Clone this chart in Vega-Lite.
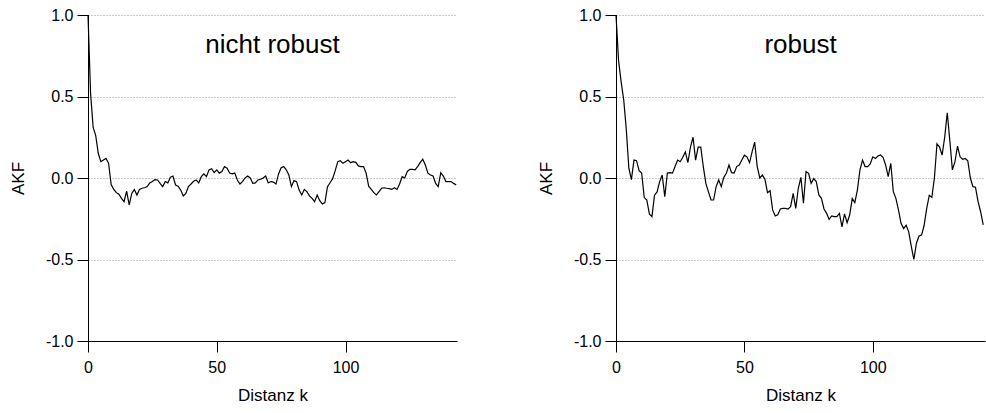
{
  "$schema": "https://vega.github.io/schema/vega-lite/v6.json",
  "padding": {"left": 9, "top": 7, "right": 0, "bottom": 0},
  "background": "white",
  "datasets": {
    "nr": [
      {"k":0,"v":1.0},{"k":1,"v":0.52},{"k":2,"v":0.31},{"k":3,"v":0.26},{"k":4,"v":0.15},{"k":5,"v":0.10},{"k":6,"v":0.11},{"k":7,"v":0.12},{"k":8,"v":0.09},{"k":9,"v":-0.04},
      {"k":10,"v":-0.07},{"k":11,"v":-0.09},{"k":12,"v":-0.10},{"k":13,"v":-0.125},{"k":14,"v":-0.145},{"k":15,"v":-0.08},{"k":16,"v":-0.165},{"k":17,"v":-0.095},{"k":18,"v":-0.07},{"k":19,"v":-0.105},
      {"k":20,"v":-0.07},{"k":21,"v":-0.063},{"k":22,"v":-0.06},{"k":23,"v":-0.053},{"k":24,"v":-0.03},{"k":25,"v":-0.022},{"k":26,"v":-0.01},{"k":27,"v":-0.012},{"k":28,"v":-0.033},{"k":29,"v":-0.053},
      {"k":30,"v":-0.022},{"k":31,"v":-0.03},{"k":32,"v":0.005},{"k":33,"v":0.012},{"k":34,"v":-0.043},{"k":35,"v":-0.05},{"k":36,"v":-0.074},{"k":37,"v":-0.11},{"k":38,"v":-0.094},{"k":39,"v":-0.053},
      {"k":40,"v":-0.037},{"k":41,"v":-0.02},{"k":42,"v":-0.012},{"k":43,"v":-0.03},{"k":44,"v":0.008},{"k":45,"v":0.025},{"k":46,"v":0.008},{"k":47,"v":0.05},{"k":48,"v":0.057},{"k":49,"v":0.033},
      {"k":50,"v":0.05},{"k":51,"v":0.03},{"k":52,"v":0.04},{"k":53,"v":0.07},{"k":54,"v":0.06},{"k":55,"v":0.03},{"k":56,"v":0.025},{"k":57,"v":0.03},{"k":58,"v":-0.012},{"k":59,"v":-0.037},
      {"k":60,"v":-0.022},{"k":61,"v":0.0},{"k":62,"v":0.012},{"k":63,"v":0.0},{"k":64,"v":-0.033},{"k":65,"v":-0.03},{"k":66,"v":-0.012},{"k":67,"v":-0.008},{"k":68,"v":0.0},{"k":69,"v":0.012},
      {"k":70,"v":-0.03},{"k":71,"v":-0.022},{"k":72,"v":-0.025},{"k":73,"v":-0.037},{"k":74,"v":0.025},{"k":75,"v":0.063},{"k":76,"v":0.07},{"k":77,"v":0.05},{"k":78,"v":0.018},{"k":79,"v":-0.053},
      {"k":80,"v":-0.016},{"k":81,"v":-0.022},{"k":82,"v":-0.074},{"k":83,"v":-0.104},{"k":84,"v":-0.07},{"k":85,"v":-0.084},{"k":86,"v":-0.11},{"k":87,"v":-0.125},{"k":88,"v":-0.145},{"k":89,"v":-0.104},
      {"k":90,"v":-0.139},{"k":91,"v":-0.16},{"k":92,"v":-0.151},{"k":93,"v":-0.053},{"k":94,"v":-0.029},{"k":95,"v":-0.004},{"k":96,"v":0.045},{"k":97,"v":0.10},{"k":98,"v":0.106},{"k":99,"v":0.09},
      {"k":100,"v":0.10},{"k":101,"v":0.11},{"k":102,"v":0.094},{"k":103,"v":0.10},{"k":104,"v":0.096},{"k":105,"v":0.074},{"k":106,"v":0.07},{"k":107,"v":0.07},{"k":108,"v":0.03},{"k":109,"v":-0.05},
      {"k":110,"v":-0.07},{"k":111,"v":-0.09},{"k":112,"v":-0.104},{"k":113,"v":-0.084},{"k":114,"v":-0.063},{"k":115,"v":-0.06},{"k":116,"v":-0.063},{"k":117,"v":-0.065},{"k":118,"v":-0.07},{"k":119,"v":-0.06},
      {"k":120,"v":-0.07},{"k":121,"v":-0.037},{"k":122,"v":0.008},{"k":123,"v":0.0},{"k":124,"v":0.04},{"k":125,"v":0.053},{"k":126,"v":0.053},{"k":127,"v":0.05},{"k":128,"v":0.07},{"k":129,"v":0.094},
      {"k":130,"v":0.115},{"k":131,"v":0.08},{"k":132,"v":0.03},{"k":133,"v":0.018},{"k":134,"v":0.012},{"k":135,"v":-0.033},{"k":136,"v":-0.053},{"k":137,"v":0.033},{"k":138,"v":0.012},{"k":139,"v":-0.022},
      {"k":140,"v":-0.022},{"k":141,"v":-0.022},{"k":142,"v":-0.033},{"k":143,"v":-0.043}
    ],
    "r": [
      {"k":0,"v":1.0},{"k":1,"v":0.72},{"k":2,"v":0.59},{"k":3,"v":0.48},{"k":4,"v":0.30},{"k":5,"v":0.06},{"k":6,"v":-0.01},{"k":7,"v":0.11},{"k":8,"v":0.106},{"k":9,"v":0.045},
      {"k":10,"v":0.03},{"k":11,"v":-0.12},{"k":12,"v":-0.135},{"k":13,"v":-0.22},{"k":14,"v":-0.237},{"k":15,"v":-0.105},{"k":16,"v":-0.085},{"k":17,"v":-0.022},{"k":18,"v":0.018},{"k":19,"v":-0.115},
      {"k":20,"v":0.03},{"k":21,"v":0.033},{"k":22,"v":0.03},{"k":23,"v":0.07},{"k":24,"v":0.11},{"k":25,"v":0.10},{"k":26,"v":0.127},{"k":27,"v":0.16},{"k":28,"v":0.095},{"k":29,"v":0.19},
      {"k":30,"v":0.25},{"k":31,"v":0.11},{"k":32,"v":0.19},{"k":33,"v":0.19},{"k":34,"v":0.07},{"k":35,"v":-0.033},{"k":36,"v":-0.085},{"k":37,"v":-0.135},{"k":38,"v":-0.135},{"k":39,"v":-0.053},
      {"k":40,"v":-0.012},{"k":41,"v":-0.053},{"k":42,"v":0.004},{"k":43,"v":0.03},{"k":44,"v":0.08},{"k":45,"v":0.033},{"k":46,"v":0.03},{"k":47,"v":0.07},{"k":48,"v":0.08},{"k":49,"v":0.11},
      {"k":50,"v":0.14},{"k":51,"v":0.13},{"k":52,"v":0.094},{"k":53,"v":0.16},{"k":54,"v":0.22},{"k":55,"v":0.07},{"k":56,"v":0.0},{"k":57,"v":0.018},{"k":58,"v":-0.008},{"k":59,"v":-0.09},
      {"k":60,"v":-0.078},{"k":61,"v":-0.196},{"k":62,"v":-0.233},{"k":63,"v":-0.226},{"k":64,"v":-0.19},{"k":65,"v":-0.186},{"k":66,"v":-0.186},{"k":67,"v":-0.19},{"k":68,"v":-0.176},{"k":69,"v":-0.094},
      {"k":70,"v":-0.186},{"k":71,"v":-0.063},{"k":72,"v":0.004},{"k":73,"v":-0.155},{"k":74,"v":0.039},{"k":75,"v":0.029},{"k":76,"v":-0.033},{"k":77,"v":-0.004},{"k":78,"v":-0.022},{"k":79,"v":-0.104},
      {"k":80,"v":-0.125},{"k":81,"v":-0.19},{"k":82,"v":-0.217},{"k":83,"v":-0.254},{"k":84,"v":-0.233},{"k":85,"v":-0.237},{"k":86,"v":-0.237},{"k":87,"v":-0.217},{"k":88,"v":-0.30},{"k":89,"v":-0.22},
      {"k":90,"v":-0.274},{"k":91,"v":-0.227},{"k":92,"v":-0.125},{"k":93,"v":-0.151},{"k":94,"v":-0.074},{"k":95,"v":0.05},{"k":96,"v":0.11},{"k":97,"v":0.07},{"k":98,"v":0.07},{"k":99,"v":0.086},
      {"k":100,"v":0.13},{"k":101,"v":0.12},{"k":102,"v":0.135},{"k":103,"v":0.141},{"k":104,"v":0.127},{"k":105,"v":0.08},{"k":106,"v":0.008},{"k":107,"v":0.09},{"k":108,"v":-0.084},{"k":109,"v":-0.125},
      {"k":110,"v":-0.196},{"k":111,"v":-0.278},{"k":112,"v":-0.31},{"k":113,"v":-0.29},{"k":114,"v":-0.33},{"k":115,"v":-0.42},{"k":116,"v":-0.50},{"k":117,"v":-0.40},{"k":118,"v":-0.356},{"k":119,"v":-0.35},
      {"k":120,"v":-0.29},{"k":121,"v":-0.186},{"k":122,"v":-0.106},{"k":123,"v":-0.119},{"k":124,"v":0.0},{"k":125,"v":0.21},{"k":126,"v":0.19},{"k":127,"v":0.14},{"k":128,"v":0.25},{"k":129,"v":0.40},
      {"k":130,"v":0.23},{"k":131,"v":0.05},{"k":132,"v":0.10},{"k":133,"v":0.196},{"k":134,"v":0.13},{"k":135,"v":0.115},{"k":136,"v":0.12},{"k":137,"v":0.106},{"k":138,"v":0.0},{"k":139,"v":-0.053},
      {"k":140,"v":-0.057},{"k":141,"v":-0.145},{"k":142,"v":-0.207},{"k":143,"v":-0.288}
    ]
  },
  "hconcat": [
    {
      "width": 369,
      "height": 326,
      "title": {"text": "nicht robust", "fontSize": 26, "fontWeight": "normal", "anchor": "middle", "frame": "group", "offset": -51, "color": "black"},
      "data": {"name": "nr"},
      "mark": {"type": "line", "color": "black", "strokeWidth": 1.2},
      "encoding": {
        "x": {"field": "k", "type": "quantitative", "scale": {"domain": [0, 143.3], "nice": false}, "axis": {"values": [0, 50, 100], "title": "Distanz k"}},
        "y": {"field": "v", "type": "quantitative", "scale": {"domain": [-1, 1], "nice": false}, "axis": {"values": [-1, -0.5, 0, 0.5, 1], "format": ".1f", "labelExpr": "replace(datum.label, '−', '-')", "title": "AKF"}}
      }
    },
    {
      "width": 369,
      "height": 326,
      "title": {"text": "robust", "fontSize": 26, "fontWeight": "normal", "anchor": "middle", "frame": "group", "offset": -51, "color": "black"},
      "data": {"name": "r"},
      "mark": {"type": "line", "color": "black", "strokeWidth": 1.2},
      "encoding": {
        "x": {"field": "k", "type": "quantitative", "scale": {"domain": [0, 143.7], "nice": false}, "axis": {"values": [0, 50, 100], "title": "Distanz k"}},
        "y": {"field": "v", "type": "quantitative", "scale": {"domain": [-1, 1], "nice": false}, "axis": {"values": [-1, -0.5, 0, 0.5, 1], "format": ".1f", "labelExpr": "replace(datum.label, '−', '-')", "title": "AKF"}}
      }
    }
  ],
  "config": {
    "font": "Liberation Sans",
    "view": {"stroke": null},
    "concat": {"spacing": 78},
    "axis": {
      "domainColor": "black", "domainWidth": 1, "tickColor": "black", "tickWidth": 1, "tickSize": 11,
      "labelColor": "black", "labelFontSize": 16, "labelPadding": 4,
      "titleColor": "black", "titleFontSize": 17, "titleFontWeight": "normal"
    },
    "axisX": {"grid": false, "labelPadding": 7, "titlePadding": 12, "labelFlush": false},
    "axisY": {"grid": true, "gridColor": "#777", "gridDash": [1, 2], "gridWidth": 0.8, "titlePadding": 18, "labelFlush": false}
  }
}
